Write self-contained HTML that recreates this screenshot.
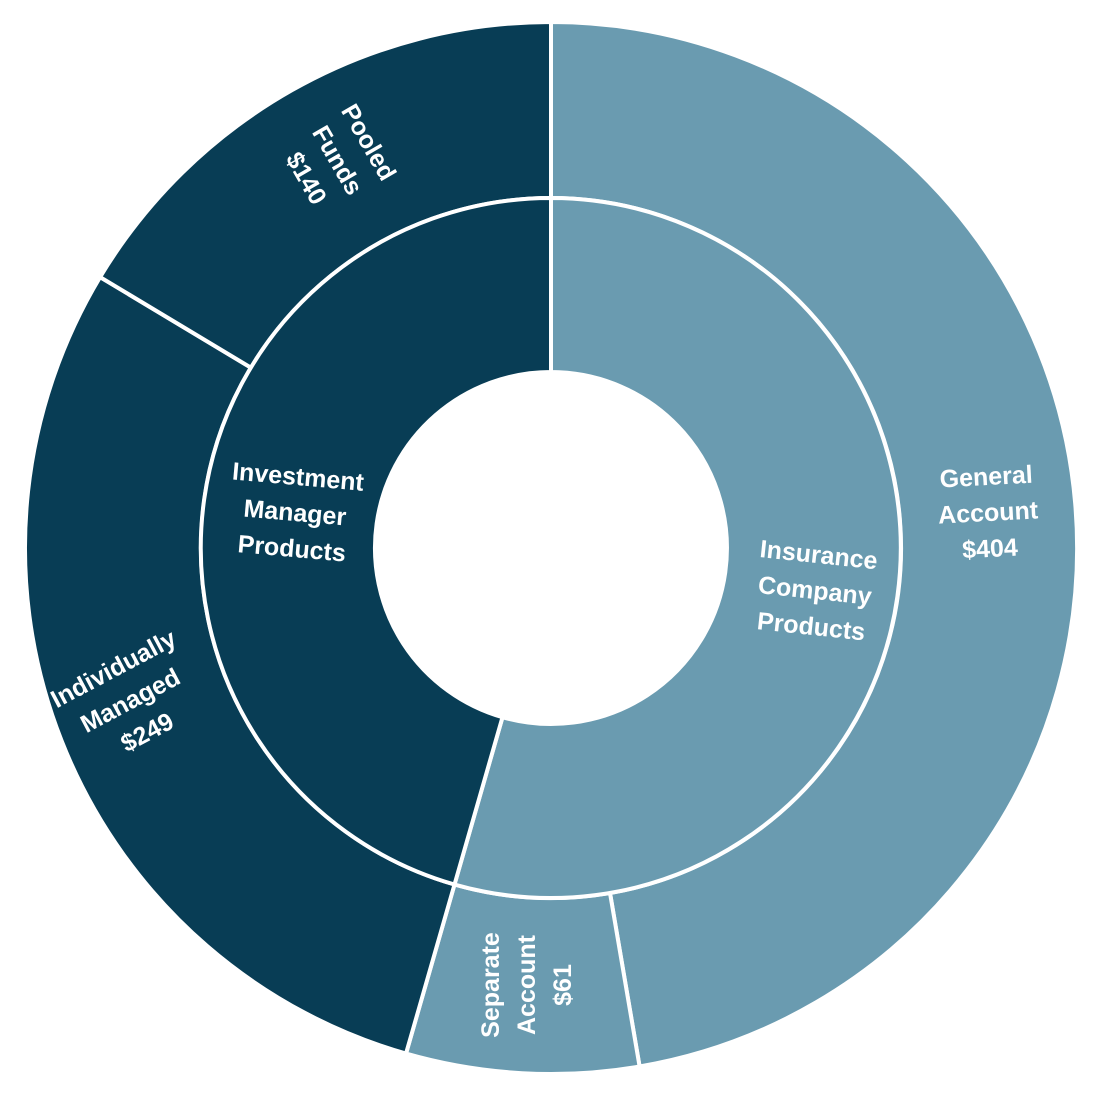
<!DOCTYPE html>
<html><head><meta charset="utf-8"><style>
html,body{margin:0;padding:0;background:#fff;}
svg text{font-family:"Liberation Sans",sans-serif;font-weight:bold;fill:#fff;font-size:25px;text-anchor:middle;}
</style></head><body>
<svg width="1107" height="1095" viewBox="0 0 1107 1095" xmlns="http://www.w3.org/2000/svg">
<g stroke="#fff" stroke-width="4" stroke-linejoin="miter">
<path fill="#6a9bb0" d="M551,22 A526,526 0 0 1 639.6,1066.5 L610,893 A350,350 0 0 0 551,198 Z"/>
<path fill="#6a9bb0" d="M639.6,1066.5 A526,526 0 0 1 406,1053.6 L454.5,884.5 A350,350 0 0 0 610,893 Z"/>
<path fill="#083d55" d="M406,1053.6 A526,526 0 0 1 100.1,277.1 L251,367.7 A350,350 0 0 0 454.5,884.5 Z"/>
<path fill="#083d55" d="M100.1,277.1 A526,526 0 0 1 551,22 L551,198 A350,350 0 0 0 251,367.7 Z"/>
<path fill="#6a9bb0" d="M551,198 A350,350 0 1 1 454.5,884.5 L502.5,717.2 A176,176 0 1 0 551,372 Z"/>
<path fill="#083d55" d="M454.5,884.5 A350,350 0 0 1 551,198 L551,372 A176,176 0 0 0 502.5,717.2 Z"/>
</g>
<g transform="translate(338,160) rotate(60)">
<text y="-27">Pooled</text><text y="9">Funds</text><text y="45">$140</text></g>
<g transform="translate(526,985) rotate(-90)">
<text y="-27">Separate</text><text y="9">Account</text><text y="45">$61</text></g>
<g transform="translate(130,700) rotate(-28)">
<text y="-27">Individually</text><text y="9">Managed</text><text y="45">$249</text></g>
<g transform="translate(295,512) rotate(5)">
<text y="-27">Investment</text><text y="9">Manager</text><text y="45">Products</text></g>
<g transform="translate(815,590) rotate(6)">
<text y="-27">Insurance</text><text y="9">Company</text><text y="45">Products</text></g>
<g transform="translate(988,512) rotate(-3)">
<text y="-27">General</text><text y="9">Account</text><text y="45">$404</text></g>
</svg>
</body></html>
